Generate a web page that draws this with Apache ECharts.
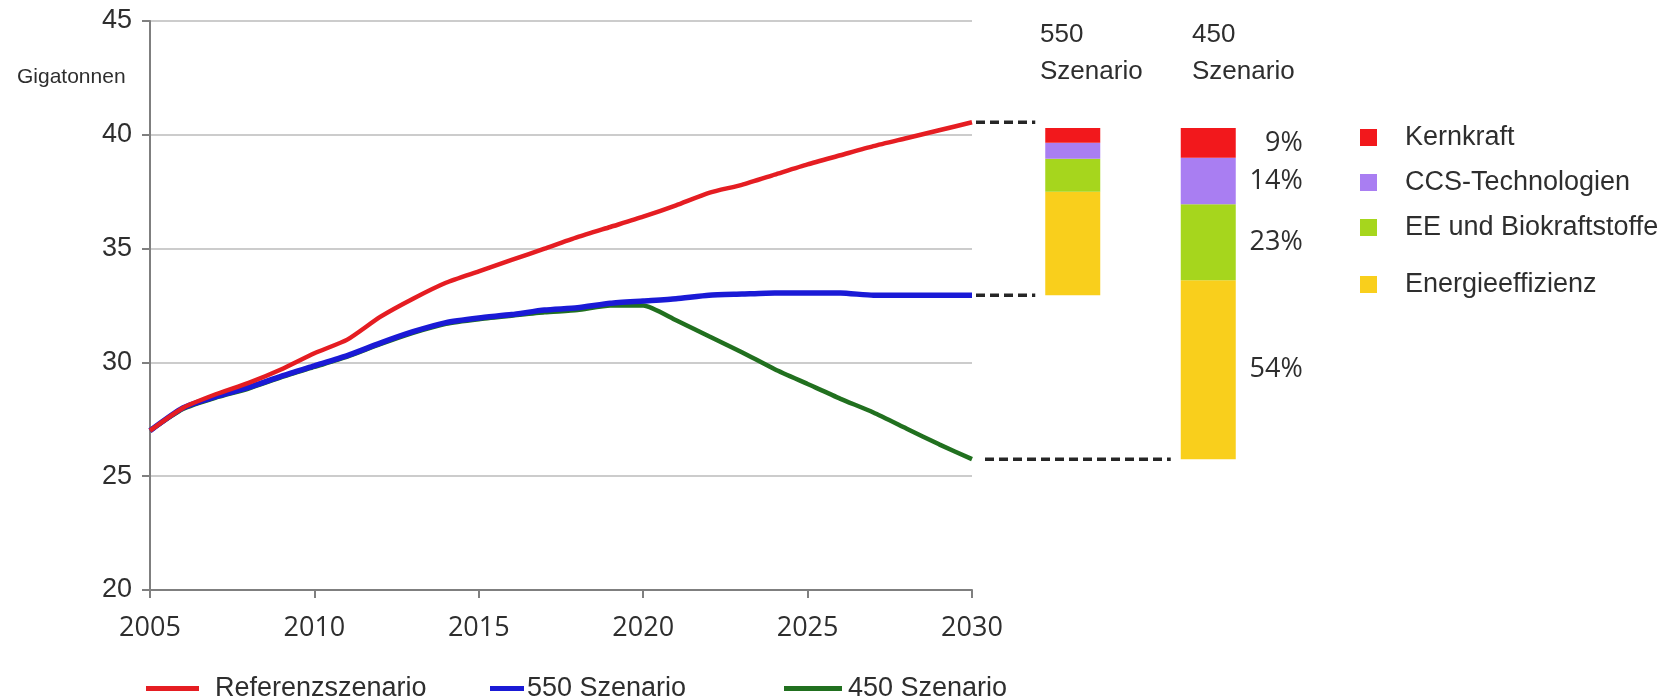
<!DOCTYPE html>
<html>
<head>
<meta charset="utf-8">
<script src="https://cdn.jsdelivr.net/npm/echarts@6/dist/echarts.min.js"></script>
<style>
  html, body { margin: 0; padding: 0; background: #ffffff; }
  #chart { width: 1662px; height: 699px; }
</style>
</head>
<body>
<div id="chart"></div>
<script>
// CO2 emissions (Gt) 2005-2030 by scenario
const years = [2005, 2006, 2007, 2008, 2009, 2010, 2011, 2012, 2013, 2014, 2015, 2016, 2017,
               2018, 2019, 2020, 2021, 2022, 2023, 2024, 2025, 2026, 2027, 2028, 2029, 2030];
const referenz = [27.0, 28.0, 28.6, 29.1, 29.7, 30.4, 31.0, 32.0, 32.8, 33.5, 34.0, 34.5, 35.0,
                  35.5, 35.95, 36.4, 36.9, 37.45, 37.8, 38.25, 38.7, 39.1, 39.5, 39.85, 40.2, 40.55];
const szen550 = [27.0, 28.0, 28.5, 28.9, 29.4, 29.85, 30.3, 30.85, 31.35, 31.75, 31.95, 32.1, 32.3,
                 32.4, 32.6, 32.7, 32.8, 32.95, 33.0, 33.05, 33.05, 33.05, 32.95, 32.95, 32.95, 32.95];
const szen450 = [27.0, 27.95, 28.45, 28.85, 29.35, 29.8, 30.25, 30.8, 31.3, 31.7, 31.9, 32.05, 32.2,
                 32.3, 32.5, 32.5, 31.85, 31.15, 30.45, 29.7, 29.05, 28.4, 27.8, 27.1, 26.4, 25.75];
const lineNames = ['Referenzszenario', '550 Szenario', '450 Szenario'];

// Reduction by measure in 2030 (Gt); the 450 column is split by the stated shares
const measures = ['Energieeffizienz', 'EE und Biokraftstoffe', 'CCS-Technologien', 'Kernkraft'];
const barCategories = ['550 Szenario', '450 Szenario'];
const reduction550 = [4.55, 1.45, 0.7, 0.65];
const share450 = [54, 23, 14, 9];
const total450 = 14.55;

const yTicks = { min: 20, max: 45, step: 5 };
const xTicks = { min: 2005, max: 2030, step: 5 };

const measureColors = ['#f9cf1c', '#a6d61d', '#a97ef2', '#f2181c'];
const lineColors = ['#e51d22', '#1a1ad6', '#21701f'];

const last = a => a[a.length - 1];
const reduction450 = share450.map(p => p / 100 * total450);
const bases = [last(szen550), last(szen450)];

const textColor = '#2e2e2e';
const sans = 'Liberation Sans, Arial, sans-serif';
const calib = 'Open Sans, sans-serif';

const chart = echarts.init(document.getElementById('chart'), null, { renderer: 'canvas' });

const lineData = [referenz, szen550, szen450].map(v => years.map((y, i) => [y, v[i]]));

const series = [];
// draw order: 450 at the bottom, reference on top
[2, 1, 0].forEach(k => {
  series.push({
    name: lineNames[k],
    type: 'line',
    xAxisIndex: 0, yAxisIndex: 0,
    data: lineData[k],
    showSymbol: false,
    symbol: 'none',
    smooth: 0.2,
    lineStyle: { color: lineColors[k], width: k === 1 ? 5.5 : 4.5 },
    itemStyle: { color: lineColors[k] },
    z: 3 + (2 - k)
  });
});

// invisible base so the columns float at the scenario level
series.push({
  name: 'base',
  type: 'bar',
  xAxisIndex: 1, yAxisIndex: 1,
  stack: 'm',
  barWidth: 55,
  data: bases,
  itemStyle: { color: 'transparent' },
  silent: true
});
measures.forEach((m, i) => {
  series.push({
    name: m,
    type: 'bar',
    xAxisIndex: 1, yAxisIndex: 1,
    stack: 'm',
    barWidth: 55,
    itemStyle: { color: measureColors[i] },
    data: [
      { value: reduction550[i] },
      {
        value: reduction450[i],
        label: {
          show: true,
          position: 'right',
          distance: 67,
          align: 'right',
          formatter: share450[i] + '%',
          fontFamily: calib,
          fontSize: 27,
          color: textColor
        }
      }
    ]
  });
});

const legendBase = {
  top: 670,
  icon: 'rect',
  itemHeight: 5,
  selectedMode: false,
  textStyle: { fontFamily: sans, fontSize: 27, color: textColor }
};

const option = {
  backgroundColor: '#ffffff',
  animation: false,
  title: [
    { text: 'Gigatonnen', left: 12, top: 62,
      textStyle: { fontFamily: sans, fontSize: 21, fontWeight: 'normal', color: textColor } },
    { text: barCategories[0].replace(' ', '\n'), left: 1035, top: 11,
      textStyle: { fontFamily: sans, fontSize: 26, lineHeight: 37, fontWeight: 'normal', color: textColor } },
    { text: barCategories[1].replace(' ', '\n'), left: 1187, top: 11,
      textStyle: { fontFamily: sans, fontSize: 26, lineHeight: 37, fontWeight: 'normal', color: textColor } }
  ],
  legend: [
    Object.assign({}, legendBase, { data: [lineNames[0]], left: 141, itemWidth: 53,
      textStyle: Object.assign({}, legendBase.textStyle, { padding: [0, 0, 0, 11] }) }),
    Object.assign({}, legendBase, { data: [lineNames[1]], left: 485, itemWidth: 34,
      textStyle: Object.assign({}, legendBase.textStyle, { padding: [0, 0, 0, -2] }) }),
    Object.assign({}, legendBase, { data: [lineNames[2]], left: 779, itemWidth: 58,
      textStyle: Object.assign({}, legendBase.textStyle, { padding: [0, 0, 0, 1] }) }),
    {
      data: measures.slice(1).reverse(),
      orient: 'vertical', left: 1355, top: 119,
      icon: 'rect', itemWidth: 17, itemHeight: 17, itemGap: 18,
      selectedMode: false,
      textStyle: { fontFamily: sans, fontSize: 27, color: textColor, padding: [0, 0, 0, 23] }
    },
    {
      data: [measures[0]],
      orient: 'vertical', left: 1355, top: 266,
      icon: 'rect', itemWidth: 17, itemHeight: 17,
      selectedMode: false,
      textStyle: { fontFamily: sans, fontSize: 27, color: textColor, padding: [0, 0, 0, 23] }
    }
  ],
  grid: [
    { left: 150, top: 21, width: 822, height: 569, containLabel: false },
    { left: 1005, top: 21, width: 271, height: 569, containLabel: false }
  ],
  xAxis: [
    {
      type: 'value', gridIndex: 0,
      min: xTicks.min, max: xTicks.max, interval: xTicks.step,
      axisLine: { show: true, lineStyle: { color: '#7f7f7f', width: 2 } },
      axisTick: { show: true, length: 8, lineStyle: { color: '#7f7f7f', width: 2 } },
      splitLine: { show: false },
      axisLabel: { fontFamily: calib, fontSize: 27, color: textColor, margin: 25,
                   formatter: v => String(v) }
    },
    {
      type: 'category', gridIndex: 1, data: barCategories, show: false
    }
  ],
  yAxis: [
    {
      type: 'value', gridIndex: 0,
      min: yTicks.min, max: yTicks.max, interval: yTicks.step,
      axisLine: { show: true, lineStyle: { color: '#7f7f7f', width: 2 } },
      axisTick: { show: true, length: 8, lineStyle: { color: '#7f7f7f', width: 2 } },
      splitLine: { show: true, lineStyle: { color: '#cccccc', width: 2 } },
      axisLabel: { fontFamily: sans, fontSize: 27, color: textColor, margin: 18 }
    },
    {
      type: 'value', gridIndex: 1, min: yTicks.min, max: yTicks.max, show: false
    }
  ],
  series: series
};

chart.setOption(option);

// dashed connectors from each scenario's 2030 value to its column
function connectors() {
  const ends = [
    { v: last(referenz), col: 0, gap: 4 },
    { v: last(szen550), col: 0, gap: 4 },
    { v: last(szen450), col: 1, gap: 13 }
  ];
  const graphics = ends.map(e => {
    const p0 = chart.convertToPixel({ xAxisIndex: 0, yAxisIndex: 0 }, [xTicks.max, e.v]);
    const pc = chart.convertToPixel({ xAxisIndex: 1, yAxisIndex: 1 }, [e.col, e.v]);
    const barLeft = pc[0] - 55 / 2;
    return {
      type: 'line',
      shape: { x1: p0[0] + e.gap, y1: p0[1], x2: barLeft - 10, y2: p0[1] },
      style: { stroke: '#262626', lineWidth: 3.5, lineDash: [9, 5] },
      silent: true
    };
  });
  chart.setOption({ graphic: graphics });
}
connectors();
</script>
</body>
</html>
